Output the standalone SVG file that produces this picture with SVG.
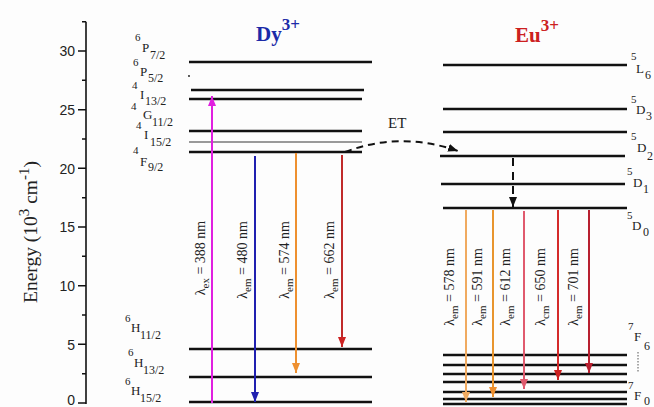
<svg xmlns="http://www.w3.org/2000/svg" width="654" height="407" viewBox="0 0 654 407">
<style>
text{font-family:"Liberation Serif","Times New Roman",serif;fill:#222}
.tick{font-family:"Liberation Sans",Arial,sans-serif;font-size:14px;text-anchor:end;fill:#222}
.lv{stroke:#111;stroke-width:2.5;fill:none}
.thin{stroke:#777;stroke-width:1.3;fill:none}
.ax{stroke:#111;stroke-width:1.6;fill:none}
.sup{font-size:11px}
.let{font-size:13px}
.sub{font-size:12px}
.rl{font-size:14px;text-anchor:middle}
.arr{stroke-width:2;fill:none}
</style>
<defs>
<marker id="mMag" markerWidth="10" markerHeight="8" refX="10" refY="4" orient="auto" markerUnits="userSpaceOnUse" viewBox="0 0 10 8"><path d="M0,0 L10,4 L0,8 Z" fill="#e020e0"/></marker>
<marker id="mBlue" markerWidth="10" markerHeight="8" refX="10" refY="4" orient="auto" markerUnits="userSpaceOnUse" viewBox="0 0 10 8"><path d="M0,0 L10,4 L0,8 Z" fill="#2020b0"/></marker>
<marker id="mOr" markerWidth="10" markerHeight="8" refX="10" refY="4" orient="auto" markerUnits="userSpaceOnUse" viewBox="0 0 10 8"><path d="M0,0 L10,4 L0,8 Z" fill="#ee9030"/></marker>
<marker id="mRed" markerWidth="10" markerHeight="8" refX="10" refY="4" orient="auto" markerUnits="userSpaceOnUse" viewBox="0 0 10 8"><path d="M0,0 L10,4 L0,8 Z" fill="#cc2222"/></marker>
<marker id="mLor" markerWidth="10" markerHeight="8" refX="10" refY="4" orient="auto" markerUnits="userSpaceOnUse" viewBox="0 0 10 8"><path d="M0,0 L10,4 L0,8 Z" fill="#f0aa60"/></marker>
<marker id="mPink" markerWidth="10" markerHeight="8" refX="10" refY="4" orient="auto" markerUnits="userSpaceOnUse" viewBox="0 0 10 8"><path d="M0,0 L10,4 L0,8 Z" fill="#e05a6e"/></marker>
<marker id="mDred" markerWidth="10" markerHeight="8" refX="10" refY="4" orient="auto" markerUnits="userSpaceOnUse" viewBox="0 0 10 8"><path d="M0,0 L10,4 L0,8 Z" fill="#b82030"/></marker>
<marker id="mBlk" markerWidth="10" markerHeight="8" refX="10" refY="4" orient="auto" markerUnits="userSpaceOnUse" viewBox="0 0 10 8"><path d="M0,0 L10,4 L0,8 Z" fill="#111"/></marker>
</defs>
<rect width="654" height="407" fill="#fdfdfd"/>

<g id="axis">
<path class="ax" d="M86,21.7 V404"/>
<path class="ax" d="M78,403 H86 M78,344.3 H86 M78,285.7 H86 M78,227 H86 M78,168.3 H86 M78,109.7 H86 M78,51 H86"/>
<path class="ax" d="M82,373.7 H86 M82,315 H86 M82,256.3 H86 M82,197.7 H86 M82,139 H86 M82,80.3 H86 M82,21.7 H86"/>
<text class="tick" x="75" y="405">0</text>
<text class="tick" x="75" y="349.5">5</text>
<text class="tick" x="75" y="291">10</text>
<text class="tick" x="75" y="232">15</text>
<text class="tick" x="75" y="173.5">20</text>
<text class="tick" x="75" y="115">25</text>
<text class="tick" x="75" y="56">30</text>
<text transform="translate(37,303) rotate(-90)" font-size="19.5">Energy (10<tspan dy="-8" font-size="15">3</tspan><tspan dy="8"> cm</tspan><tspan dy="-8" font-size="15">-1</tspan><tspan dy="8">)</tspan></text>
</g>

<g id="dy-title"><text x="256" y="41" font-size="21" font-weight="bold" style="fill:#1c2aa8">Dy<tspan dy="-11" font-size="17">3+</tspan></text></g>
<g id="eu-title"><text x="515" y="42" font-size="21" font-weight="bold" style="fill:#cc2020">Eu<tspan dy="-11" font-size="17">3+</tspan></text></g>

<g id="dy-6P7_2"><path class="lv" d="M189,62 H372"/><text class="sup" x="135" y="41">6</text><text class="let" x="142" y="52">P</text><text class="sub" x="150" y="59">7/2</text></g>
<g id="dy-6P5_2"><circle cx="189" cy="76" r="0.9" fill="#111"/><text class="sup" x="133" y="66">6</text><text class="let" x="140" y="76">P</text><text class="sub" x="148" y="82">5/2</text></g>
<g id="dy-4I13_2"><path class="lv" d="M191,90 H364"/><path class="lv" d="M189,99 H362"/><text class="sup" x="132" y="89">4</text><text class="let" x="140" y="99">I</text><text class="sub" x="145" y="105">13/2</text></g>
<g id="dy-4G11_2"><path class="lv" d="M189,131 H362"/><text class="sup" x="131" y="110">4</text><text class="let" x="143" y="119">G</text><text class="sub" x="152" y="126">11/2</text></g>
<g id="dy-4I15_2"><path class="thin" d="M189,142 H362"/><text class="sup" x="136" y="129">4</text><text class="let" x="144" y="139">I</text><text class="sub" x="150" y="146">15/2</text></g>
<g id="dy-4F9_2"><path class="lv" d="M189,152 H362"/><text class="sup" x="133" y="154">4</text><text class="let" x="140" y="166">F</text><text class="sub" x="148" y="171">9/2</text></g>
<g id="dy-6H11_2"><path class="lv" d="M189,349 H372"/><text class="sup" x="125" y="322">6</text><text class="let" x="131" y="332">H</text><text class="sub" x="140" y="339">11/2</text></g>
<g id="dy-6H13_2"><path class="lv" d="M189,377 H372"/><text class="sup" x="128" y="356">6</text><text class="let" x="134" y="367">H</text><text class="sub" x="143" y="374">13/2</text></g>
<g id="dy-6H15_2"><path class="lv" d="M189,402 H372"/><text class="sup" x="125" y="385">6</text><text class="let" x="131" y="395">H</text><text class="sub" x="140" y="402">15/2</text></g>

<g id="eu-5L6"><path class="lv" d="M443,65 H627"/><text class="sup" x="631" y="60">5</text><text class="let" x="636" y="73">L</text><text class="sub" x="645" y="79">6</text></g>
<g id="eu-5D3"><path class="lv" d="M443,109 H627"/><text class="sup" x="631" y="103">5</text><text class="let" x="636" y="114">D</text><text class="sub" x="646" y="120">3</text></g>
<g id="eu-5D2a"><path class="lv" d="M443,132 H627"/></g>
<g id="eu-5D2"><path class="lv" d="M440,156 H625"/><text class="sup" x="631" y="140">5</text><text class="let" x="637" y="152">D</text><text class="sub" x="647" y="160">2</text></g>
<g id="eu-5D1"><path class="lv" d="M441,184 H625"/><text class="sup" x="627" y="175">5</text><text class="let" x="633" y="187">D</text><text class="sub" x="643" y="193">1</text></g>
<g id="eu-5D0"><path class="lv" d="M443,208 H627"/><text class="sup" x="627" y="219">5</text><text class="let" x="632" y="230">D</text><text class="sub" x="643" y="236">0</text></g>
<g id="eu-7F"><path class="lv" d="M443,355 H627 M443,365 H627 M443,374 H627 M443,382 H627 M443,392 H627 M443,399 H627 M443,404 H627"/>
<text class="sup" x="628" y="389">7</text>
<text class="sup" x="628" y="330">7</text><text class="let" x="634" y="341">F</text><text class="sub" x="644" y="350">6</text>
<path d="M638,352 V373" stroke="#555" stroke-width="1" stroke-dasharray="1.5,1.5"/>
<text class="let" x="634" y="400">F</text><text class="sub" x="644" y="405">0</text></g>

<g id="connectors">
<path class="arr" stroke="#e020e0" d="M212,403 V96" marker-end="url(#mMag)"/>
<path class="arr" stroke="#2020b0" d="M255,156 V402" marker-end="url(#mBlue)"/>
<path class="arr" stroke="#ee9030" d="M296,153 V373" marker-end="url(#mOr)"/>
<path class="arr" stroke="#c02a2a" d="M342,155 V347" marker-end="url(#mRed)"/>
<path class="arr" stroke="#f0aa60" d="M466,210 V402" marker-end="url(#mLor)"/>
<path class="arr" stroke="#e8952e" d="M493,210 V397" marker-end="url(#mOr)"/>
<path class="arr" stroke="#e05a6e" d="M524,211 V389" marker-end="url(#mPink)"/>
<path class="arr" stroke="#d42a2a" d="M558,210 V380" marker-end="url(#mRed)"/>
<path class="arr" stroke="#b82030" d="M589,210 V373" marker-end="url(#mDred)"/>
<path d="M345,152 Q400,131 458,151" stroke="#111" stroke-width="2" fill="none" stroke-dasharray="7,5" marker-end="url(#mBlk)"/>
<path d="M513,158 V207" stroke="#111" stroke-width="2" fill="none" stroke-dasharray="8,6" marker-end="url(#mBlk)"/>
<text x="388" y="128" font-size="15">ET</text>
</g>

<g id="labels">
<text class="rl" transform="translate(205,258) rotate(-90)">λ<tspan dy="4" font-size="11">ex</tspan><tspan dy="-4"> = 388 nm</tspan></text>
<text class="rl" transform="translate(247,260) rotate(-90)">λ<tspan dy="4" font-size="11">em</tspan><tspan dy="-4"> = 480 nm</tspan></text>
<text class="rl" transform="translate(289,260) rotate(-90)">λ<tspan dy="4" font-size="11">em</tspan><tspan dy="-4"> = 574 nm</tspan></text>
<text class="rl" transform="translate(334,260) rotate(-90)">λ<tspan dy="4" font-size="11">em</tspan><tspan dy="-4"> = 662 nm</tspan></text>
<text class="rl" transform="translate(454,287) rotate(-90)">λ<tspan dy="4" font-size="11">em</tspan><tspan dy="-4"> = 578 nm</tspan></text>
<text class="rl" transform="translate(482,287) rotate(-90)">λ<tspan dy="4" font-size="11">em</tspan><tspan dy="-4"> = 591 nm</tspan></text>
<text class="rl" transform="translate(510,287) rotate(-90)">λ<tspan dy="4" font-size="11">em</tspan><tspan dy="-4"> = 612 nm</tspan></text>
<text class="rl" transform="translate(545,287) rotate(-90)">λ<tspan dy="4" font-size="11">cm</tspan><tspan dy="-4"> = 650 nm</tspan></text>
<text class="rl" transform="translate(578,287) rotate(-90)">λ<tspan dy="4" font-size="11">em</tspan><tspan dy="-4"> = 701 nm</tspan></text>
</g>
</svg>
